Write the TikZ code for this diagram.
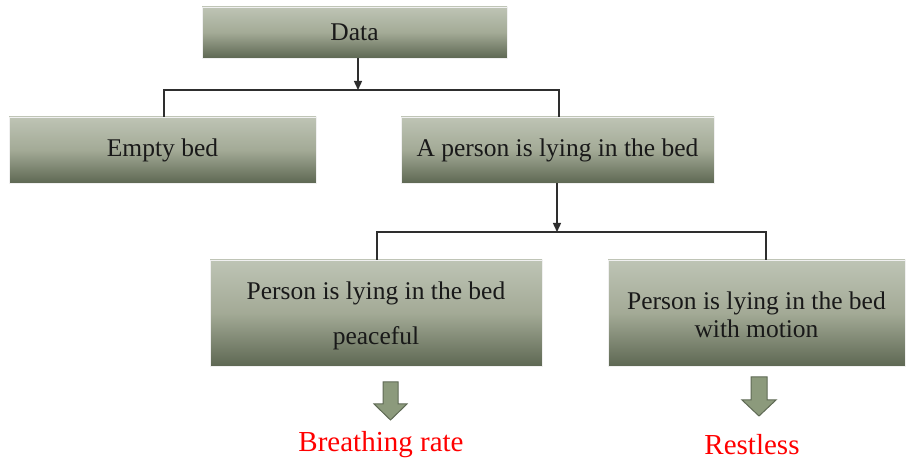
\documentclass[tikz,border=0pt]{standalone}
\usepackage{fontspec}
\setmainfont{Liberation Serif}
\usetikzlibrary{arrows.meta}
\definecolor{boxtop}{HTML}{BEC4B5}
\definecolor{boxmid}{HTML}{A3AA96}
\definecolor{boxbot}{HTML}{5E6853}
\definecolor{linecol}{HTML}{2E2E2E}
\definecolor{arrfill}{HTML}{8C9A7C}
\definecolor{arredge}{HTML}{5F6A55}
\tikzset{
  greenbox/.style={rectangle, inner sep=0pt, top color=boxtop, bottom color=boxbot, middle color=boxmid, draw=white!88!gray, line width=0.8pt, align=center, font=\fontsize{25.5}{28}\selectfont, text=black!90},
  boxtext/.style={inner sep=0pt, align=center, font=\fontsize{25.5}{28}\selectfont, text=black!90},
  conn/.style={draw=linecol, line width=1.4pt},
  connarrow/.style={conn, -{Triangle[length=9pt,width=8pt]}},
  blockarrow/.style={fill=arrfill, draw=arredge, line width=1pt, line join=miter},
  result/.style={text=red, font=\fontsize{29}{32}\selectfont, inner sep=0pt}
}
\begin{document}
\begin{tikzpicture}[x=1pt,y=-1pt]
\useasboundingbox (0,0) rectangle (911,462);
\node[greenbox, minimum width=305pt, minimum height=51pt] (data) at (354.5,32.5) {Data};
\node[greenbox, minimum width=307pt, minimum height=66pt] (empty) at (162.5,150) {Empty bed};
\node[greenbox, minimum width=313pt, minimum height=66pt] (lying) at (557.5,150) {A person is lying in the bed};
\node[greenbox, minimum width=332pt, minimum height=106pt] (peace) at (376,313) {};
\node[boxtext] (peacetext) at (376,316) {Person is lying in the bed\\[17pt]peaceful};
\node[greenbox, minimum width=297pt, minimum height=106pt] (motion) at (756.5,313) {};
\node[boxtext] (motiontext) at (756.5,315) {Person is lying in the bed\\with motion};
\coordinate (j1) at (358,90);
\coordinate (l1) at (164,90);
\coordinate (r1) at (559,90);
\coordinate (j2) at (557,232);
\coordinate (l2) at (377,232);
\coordinate (r2) at (766,232);
\draw[connarrow] (data.south -| j1) -- (j1);
\draw[conn] (l1 |- empty.north) -- (l1) -- (r1) -- (r1 |- lying.north);
\draw[connarrow] (lying.south -| j2) -- (j2);
\draw[conn] (l2 |- peace.north) -- (l2) -- (r2) -- (r2 |- motion.north);
\draw[blockarrow] (383,382) -- (398,382) -- (398,404) -- (407,404) -- (390.5,420) -- (374,404) -- (383,404) -- cycle;
\draw[blockarrow] (751,377) -- (767,377) -- (767,400) -- (776,400) -- (759,416) -- (742,400) -- (751,400) -- cycle;
\node[result] (breath) at (381,445) {Breathing rate};
\node[result] (restless) at (752,445) {Restless};
\end{tikzpicture}
\end{document}
